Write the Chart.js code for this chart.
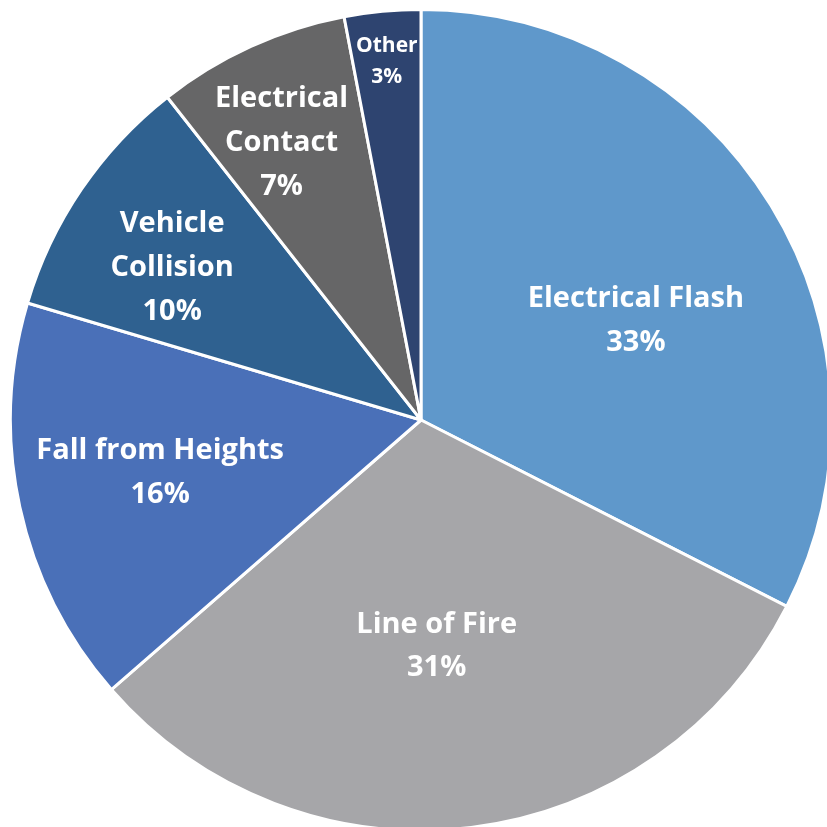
<!DOCTYPE html>
<html>
<head>
<meta charset="utf-8">
<script src="https://cdn.jsdelivr.net/npm/chart.js@4.4.1/dist/chart.umd.min.js"></script>
<style>
  html, body { margin: 0; padding: 0; background: #fff; overflow: hidden; }
  #wrap { position: absolute; left: -1px; top: -2px; width: 844px; height: 844px; }
</style>
</head>
<body>
<div id="wrap"><canvas id="pieChart"></canvas></div>
<script>
const categories = ['Electrical Flash', 'Line of Fire', 'Fall from Heights', 'Vehicle Collision', 'Electrical Contact', 'Other'];
// slice sizes
const sliceValues = [32.5, 31.1, 16.0, 9.8, 7.6, 3.0];
// percentages printed on the slices
const percentLabels = ['33%', '31%', '16%', '10%', '7%', '3%'];
const labelLines = [['Electrical Flash'], ['Line of Fire'], ['Fall from Heights'], ['Vehicle', 'Collision'], ['Electrical', 'Contact'], ['Other']];
const colors = ['#5f98cb', '#a6a6a9', '#4a70b8', '#2f6190', '#666667', '#2e4470'];

// label placement: fraction of radius and small angle nudge (degrees)
const labelRadius = [0.58, 0.544, 0.647, 0.714, 0.762, 0.885];
const labelShift = [6, 3, 1.4, -2.3, -2, 0];
const labelSize = [29, 29, 29, 29, 29, 21];
const labelLineH = [44, 43, 44, 44, 44, 31];

const sliceLabels = {
    id: 'sliceLabels',
    afterDatasetsDraw(chart) {
        const ctx = chart.ctx;
        const meta = chart.getDatasetMeta(0);
        meta.data.forEach((arc, i) => {
            const mid = (arc.startAngle + arc.endAngle) / 2 + labelShift[i] * Math.PI / 180;
            const r = arc.outerRadius * labelRadius[i];
            const x = arc.x + Math.cos(mid) * r;
            const y = arc.y + Math.sin(mid) * r + 3;
            const lineH = labelLineH[i];
            const lines = labelLines[i].concat([percentLabels[i]]);
            ctx.save();
            ctx.fillStyle = '#fff';
            ctx.font = 'bold ' + labelSize[i] + 'px "Open Sans"';
            ctx.textAlign = 'center';
            ctx.textBaseline = 'middle';
            const top = y - (lines.length - 1) * lineH / 2;
            lines.forEach((t, k) => ctx.fillText(t, x, top + k * lineH));
            ctx.restore();
        });
    }
};

new Chart(document.getElementById('pieChart'), {
    type: 'pie',
    data: {
        labels: categories,
        datasets: [{
            data: sliceValues,
            backgroundColor: colors,
            borderColor: '#ffffff',
            borderWidth: 3
        }]
    },
    options: {
        responsive: true,
        maintainAspectRatio: false,
        animation: false,
        layout: { padding: 10 },
        plugins: {
            legend: { display: false },
            tooltip: { enabled: false }
        }
    },
    plugins: [sliceLabels]
});
</script>
</body>
</html>
